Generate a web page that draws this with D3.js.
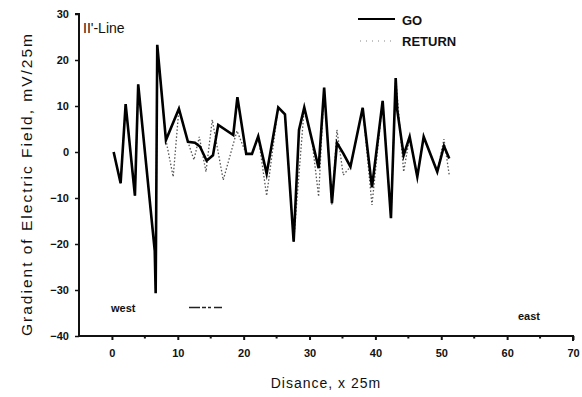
<!DOCTYPE html>
<html><head><meta charset="utf-8">
<script src="https://cdn.jsdelivr.net/npm/d3@7"></script>
<style>
body{margin:0;background:#fff;}
svg{display:block;}
text{font-family:"Liberation Sans",Arial,sans-serif;fill:#111;}
</style></head>
<body><svg id="c" width="582" height="397"></svg>
<script>
// Distance (x 25m) and gradient values (mV/25m), GO traverse
const goX = [0.26,1.32,2.08,3.49,3.99,6.5,6.64,6.88,8.2,10.17,11.54,12.6,13.36,14.38,15.34,16.14,18.42,19.05,20.39,21.26,22.21,23.49,25.25,26.27,27.59,28.4,29.2,31.38,32.22,33.4,34.16,35.12,36.21,38.07,39.48,41.1,42.36,43.08,43.32,44.29,45.2,46.36,47.33,49.39,50.41,51.21];
const goY = [0,-6.8,10.4,-9.5,14.7,-21.5,-30.7,23.3,2.6,9.4,2.2,2.0,1.2,-1.9,-0.7,5.9,3.7,11.9,-0.4,-0.4,3.4,-4.7,9.7,8.2,-19.5,4.8,9.7,-3.5,14.0,-11.1,2.0,-0.3,-3.2,9.6,-7.7,11.1,-14.4,16.1,9.1,-0.7,3.3,-5.4,3.3,-4.3,1.3,-1.4];
// RETURN traverse
const retX = [0.26,1.32,2.08,3.49,3.99,6.5,6.64,6.88,8.2,9.3,10.17,11.54,12.45,13.26,14.28,15.23,16.9,18.98,20.39,21.26,22.21,23.49,25.25,26.27,27.59,29.2,30.4,31.38,32.22,33.4,34.16,35.12,36.21,38.07,39.48,41.1,42.36,43.08,44.29,45.2,46.36,47.33,49.39,50.41,51.21];
const retY = [0,-6.8,10.4,-9.5,14.7,-21.5,-30.7,23.3,2.6,-5.4,9.4,2.2,-1.7,3.3,-4.3,7.0,-6.1,4.6,-0.4,-0.4,3.4,-9.5,9.7,8.2,-19.5,9.7,2.2,-9.7,14.0,-11.5,4.8,-5.0,-3.2,9.6,-11.5,11.1,-14.4,16.1,-4.3,3.3,-5.4,3.3,-4.3,2.8,-5.0];
const xTicks = [0,10,20,30,40,50,60,70];
const xMinorTicks = [5,15,25,35,45,55,65];
const yTicks = [30,20,10,0,-10,-20,-30,-40];
const seriesNames = ["GO","RETURN"];

const svg = d3.select("#c");
const x = d3.scaleLinear().domain([-5,70]).range([79,573]);
const y = d3.scaleLinear().domain([-40,30]).range([336,14]);

// axes
const xAxis = d3.axisBottom(x).tickValues(xTicks).tickSize(4).tickPadding(9).tickFormat(d3.format("d"));
const gx = svg.append("g").attr("transform",`translate(0,${y(-40)})`).call(xAxis);
gx.select(".domain").attr("stroke","#111").attr("stroke-width",2).attr("d",`M${x(-5)},0H${x(70)}V5`);
gx.selectAll(".tick line").attr("stroke","#111").attr("stroke-width",2);
gx.selectAll(".tick text").style("font-size","11px").style("font-weight","bold").attr("fill","#111");
svg.append("g").attr("transform",`translate(0,${y(-40)})`)
  .selectAll("line").data(xMinorTicks).join("line")
  .attr("x1",d=>x(d)).attr("x2",d=>x(d)).attr("y1",0).attr("y2",2.5)
  .attr("stroke","#111").attr("stroke-width",2);

const yAxis = d3.axisLeft(y).tickValues(yTicks).tickSize(4).tickPadding(6).tickFormat(d3.format("d"));
const gy = svg.append("g").attr("transform",`translate(${x(-5)},0)`).call(yAxis);
gy.select(".domain").attr("stroke","#111").attr("stroke-width",2).attr("d",`M-4,${y(30)}H0V${y(-40)}`);
gy.selectAll(".tick line").attr("stroke","#111").attr("stroke-width",1.5);
gy.selectAll(".tick text").style("font-size","11px").style("font-weight","bold").attr("fill","#111");

// lines
const line = d3.line().x(d=>x(d[0])).y(d=>y(d[1]));
svg.append("path").datum(retX.map((v,i)=>[v,retY[i]]))
  .attr("d",line).attr("fill","none").attr("stroke","#555")
  .attr("stroke-width",1.3).attr("stroke-dasharray","1.5,2");
svg.append("path").datum(goX.map((v,i)=>[v,goY[i]]))
  .attr("d",line).attr("fill","none").attr("stroke","#000")
  .attr("stroke-width",2.6).attr("stroke-linejoin","miter").attr("stroke-miterlimit",6);

// legend
const lg = svg.append("g");
lg.append("line").attr("x1",358).attr("x2",395).attr("y1",19).attr("y2",19).attr("stroke","#000").attr("stroke-width",2);
lg.append("line").attr("x1",360).attr("x2",392).attr("y1",41).attr("y2",41).attr("stroke","#888").attr("stroke-width",1.2).attr("stroke-dasharray","1,5");
lg.append("text").attr("x",402).attr("y",25).style("font-size","13px").style("font-weight","bold").text(seriesNames[0]);
lg.append("text").attr("x",402).attr("y",46).style("font-size","13px").style("font-weight","bold").text(seriesNames[1]);

// titles and labels
svg.append("text").attr("x",83).attr("y",33).style("font-size","14px").text("II'-Line");
svg.append("text").attr("x",326).attr("y",388).attr("text-anchor","middle")
  .style("font-size","14px").style("letter-spacing","1px").text("Disance, x 25m");
svg.append("text").attr("transform","translate(32,184) rotate(-90)").attr("text-anchor","middle")
  .style("font-size","15.5px").style("letter-spacing","2px").text("Gradient of Electric Field, mV/25m");
svg.append("text").attr("x",111).attr("y",312).style("font-size","11px").style("font-weight","bold").text("west");
svg.append("text").attr("x",518).attr("y",320).style("font-size","11px").style("font-weight","bold").text("east");
svg.append("line").attr("x1",189).attr("x2",229).attr("y1",307.5).attr("y2",307.5)
  .attr("stroke","#222").attr("stroke-width",1.6).attr("stroke-dasharray","11,2,4,2,3,3,8");
</script></body></html>
